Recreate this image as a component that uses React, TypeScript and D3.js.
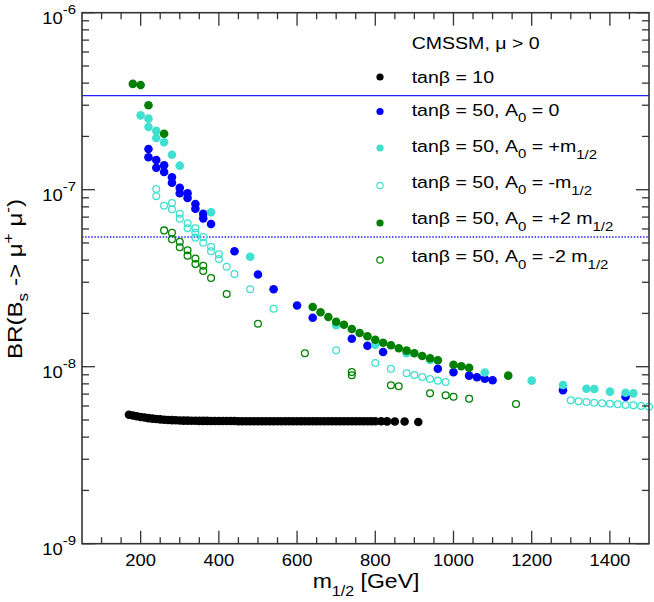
import React from "react";
import * as d3 from "d3";

const W = 654;
const H = 602;
const FONT = "'Liberation Sans', Arial, Helvetica, sans-serif";
const SX = 1.15;

// x ticks
const xMajorTicks = [200, 400, 600, 800, 1000, 1200, 1400];
const xMinorTicks = [100, 150, 250, 300, 350, 450, 500, 550, 650, 700, 750, 850, 900, 950, 1050, 1100, 1150, 1250, 1300, 1350, 1450];
const yDecades = [-9, -8, -7, -6];

// experimental limits
const limitSolid = 3.4e-7;
const limitDotted = 5.4e-8;

// tanβ = 10 (black)
const tb10X = [170, 180, 190, 200, 210, 220, 230, 240, 250, 260, 270, 280, 290, 300, 310, 320, 330, 340, 350, 360, 370, 380, 390, 400, 410, 420, 430, 440, 450, 460, 470, 480, 490, 500, 510, 520, 530, 540, 550, 560, 570, 580, 590, 600, 610, 620, 630, 640, 650, 660, 670, 680, 690, 700, 710, 720, 730, 740, 750, 760, 770, 780, 790, 800, 815, 830, 850, 875, 910];
const tb10Y = [5.35, 5.3, 5.25, 5.2, 5.16, 5.12, 5.09, 5.06, 5.04, 5.02, 5.0, 4.99, 4.98, 4.97, 4.96, 4.96, 4.95, 4.95, 4.94, 4.94, 4.94, 4.93, 4.93, 4.93, 4.93, 4.93, 4.93, 4.93, 4.92, 4.92, 4.92, 4.92, 4.92, 4.92, 4.92, 4.92, 4.92, 4.92, 4.92, 4.92, 4.92, 4.92, 4.92, 4.92, 4.92, 4.92, 4.92, 4.92, 4.92, 4.92, 4.92, 4.92, 4.92, 4.92, 4.92, 4.92, 4.92, 4.92, 4.92, 4.92, 4.92, 4.92, 4.92, 4.92, 4.92, 4.91, 4.9, 4.9, 4.87].map((v) => v * 1e-9);

// tanβ = 50, A0 = 0 (blue)
const a0X = [220, 220, 240, 240, 260, 260, 280, 280, 300, 300, 320, 320, 340, 340, 360, 360, 380, 440, 500, 540, 600, 640, 740, 780, 820, 960, 1000, 1040, 1060, 1080, 1100, 1280, 1440];
const a0Y = [16.98, 15.24, 14.71, 13.31, 13.73, 12.59, 11.75, 10.95, 10.26, 9.54, 9.54, 8.98, 8.3, 7.81, 7.32, 6.89, 6.4, 4.49, 3.32, 2.737, 2.218, 1.891, 1.439, 1.314, 1.211, 0.974, 0.93, 0.89, 0.871, 0.855, 0.838, 0.736, 0.677].map((v) => v * 1e-8);

// tanβ = 50, A0 = +m1/2 (turquoise filled)
const apX = [200, 220, 220, 240, 240, 260, 280, 300, 380, 480, 700, 800, 880, 940, 1080, 1200, 1280, 1340, 1360, 1400, 1440, 1460];
const apY = [26.3, 25.2, 22.6, 21.5, 19.6, 18.53, 15.76, 13.67, 7.45, 4.18, 1.714, 1.331, 1.191, 1.091, 0.927, 0.834, 0.788, 0.751, 0.748, 0.723, 0.713, 0.707].map((v) => v * 1e-8);

// tanβ = 50, A0 = -m1/2 (turquoise open)
const amX = [240, 240, 260, 280, 280, 300, 300, 320, 320, 340, 340, 340, 360, 360, 380, 380, 400, 400, 420, 440, 480, 540, 700, 800, 840, 880, 900, 920, 940, 960, 980, 1300, 1320, 1340, 1360, 1380, 1400, 1420, 1440, 1460, 1480, 1500];
const amY = [10.09, 9.18, 8.12, 8.41, 7.75, 7.32, 6.86, 6.46, 6.05, 6.05, 5.71, 5.36, 5.4, 5.02, 4.76, 4.49, 4.32, 4.06, 3.67, 3.34, 2.737, 2.127, 1.238, 1.049, 0.974, 0.918, 0.898, 0.875, 0.852, 0.834, 0.82, 0.646, 0.637, 0.632, 0.626, 0.621, 0.618, 0.613, 0.608, 0.605, 0.6, 0.594].map((v) => v * 1e-8);

// tanβ = 50, A0 = +2 m1/2 (green filled)
const a2pX = [180, 200, 220, 260, 640, 660, 680, 700, 720, 740, 760, 780, 800, 820, 840, 860, 880, 900, 920, 940, 960, 1000, 1020, 1040, 1140];
const a2pY = [39.6, 39.0, 30.0, 20.7, 2.175, 2.03, 1.909, 1.796, 1.727, 1.633, 1.55, 1.485, 1.42, 1.366, 1.321, 1.271, 1.232, 1.191, 1.15, 1.116, 1.087, 1.026, 1.005, 0.987, 0.89].map((v) => v * 1e-8);

// tanβ = 50, A0 = -2 m1/2 (green open)
const a2mX = [260, 280, 280, 300, 300, 320, 320, 340, 340, 360, 360, 380, 420, 500, 620, 740, 740, 840, 860, 940, 980, 1000, 1040, 1160];
const a2mY = [5.89, 5.71, 5.25, 5.08, 4.73, 4.55, 4.24, 4.08, 3.8, 3.72, 3.47, 3.17, 2.575, 1.749, 1.191, 0.933, 0.895, 0.786, 0.775, 0.707, 0.689, 0.677, 0.659, 0.615].map((v) => v * 1e-8);

const BLACK = "#000000";
const BLUE = "#0000ff";
const TURQ = "#40e0d0";
const GREEN = "#008000";

type Series = { xs: number[]; ys: number[]; color: string; open: boolean };
const series: Series[] = [
  { xs: tb10X, ys: tb10Y, color: BLACK, open: false },
  { xs: a0X, ys: a0Y, color: BLUE, open: false },
  { xs: apX, ys: apY, color: TURQ, open: false },
  { xs: amX, ys: amY, color: TURQ, open: true },
  { xs: a2pX, ys: a2pY, color: GREEN, open: false },
  { xs: a2mX, ys: a2mY, color: GREEN, open: true },
];

const MU = "\u03bc";
const legendTitle = "CMSSM, \u03bc > 0";
const legendMain = ["tan\u03b2 = 10", "tan\u03b2 = 50, A", "tan\u03b2 = 50, A", "tan\u03b2 = 50, A", "tan\u03b2 = 50, A", "tan\u03b2 = 50, A"];
const legendRest = ["", " = 0", " = +m", " = -m", " = +2 m", " = -2 m"];
const legendHalf = [false, false, true, true, true, true];

const left = 82, right = 649, top = 12.7, bottom = 543.7;

function ST(props: { x: number; y: number; rot?: number; anchor?: string; size: number; children: React.ReactNode }) {
  const { x, y, rot = 0, anchor = "start", size, children } = props;
  return (
    <g transform={`translate(${x},${y}) rotate(${rot}) scale(${SX},1)`}>
      <text fontFamily={FONT} fontSize={size} fontWeight="normal" textAnchor={anchor as any} fill="#000">
        {children}
      </text>
    </g>
  );
}

export default function App() {
  const x = d3.scaleLinear().domain([50, 1500]).range([left, right]);
  const y = d3.scaleLog().domain([1e-9, 1e-6]).range([bottom, top]);

  const yMinor: number[] = [];
  for (let e = -9; e < -6; e++) for (let k = 2; k <= 9; k++) yMinor.push(k * Math.pow(10, e));

  const legRowY = [82.5, 115.7, 151.7, 187.7, 224, 262.3];
  const legMarkY = [77, 111.5, 148, 185.5, 223, 260];

  const axisColor = "#333";
  return (
    <svg width={W} height={H} style={{ position: "absolute", left: 0, top: 0, background: "#fff" }}>
      <rect x={0} y={0} width={W} height={H} fill="#fff" />
      {/* limit lines */}
      <line x1={left} x2={right} y1={y(limitSolid)} y2={y(limitSolid)} stroke="#2020ff" strokeWidth={1.3} />
      <line x1={left} x2={right} y1={y(limitDotted)} y2={y(limitDotted)} stroke="#2020ff" strokeWidth={1.5} strokeDasharray="1.5 1.6" />

      {/* data */}
      {series.map((s, si) =>
        s.xs.map((xv, i) =>
          s.open ? (
            <circle key={`${si}-${i}`} cx={x(xv)} cy={y(s.ys[i])} r={3.4} fill="none" stroke={s.color} strokeWidth={1.3} />
          ) : (
            <circle key={`${si}-${i}`} cx={x(xv)} cy={y(s.ys[i])} r={4.3} fill={s.color} />
          )
        )
      )}

      {/* frame */}
      <rect x={left} y={top} width={right - left} height={bottom - top} fill="none" stroke={axisColor} strokeWidth={1.6} />
      {/* x ticks */}
      {xMajorTicks.map((t) => (
        <g key={`xM${t}`}>
          <line x1={x(t)} x2={x(t)} y1={bottom} y2={bottom - 13} stroke={axisColor} strokeWidth={1.3} />
          <line x1={x(t)} x2={x(t)} y1={top} y2={top + 13} stroke={axisColor} strokeWidth={1.3} />
        </g>
      ))}
      {xMinorTicks.map((t) => (
        <g key={`xm${t}`}>
          <line x1={x(t)} x2={x(t)} y1={bottom} y2={bottom - 6.5} stroke={axisColor} strokeWidth={1.3} />
          <line x1={x(t)} x2={x(t)} y1={top} y2={top + 6.5} stroke={axisColor} strokeWidth={1.3} />
        </g>
      ))}
      {/* y ticks */}
      {yDecades.map((e) => (
        <g key={`yM${e}`}>
          <line x1={left} x2={left + 13} y1={y(Math.pow(10, e))} y2={y(Math.pow(10, e))} stroke={axisColor} strokeWidth={1.3} />
          <line x1={right} x2={right - 13} y1={y(Math.pow(10, e))} y2={y(Math.pow(10, e))} stroke={axisColor} strokeWidth={1.3} />
        </g>
      ))}
      {yMinor.map((v, i) => (
        <g key={`ym${i}`}>
          <line x1={left} x2={left + 7} y1={y(v)} y2={y(v)} stroke={axisColor} strokeWidth={1.3} />
          <line x1={right} x2={right - 7} y1={y(v)} y2={y(v)} stroke={axisColor} strokeWidth={1.3} />
        </g>
      ))}

      {/* x tick labels */}
      {xMajorTicks.map((t) => (
        <ST key={`xl${t}`} x={x(t)} y={566} anchor="middle" size={16}>
          {String(t)}
        </ST>
      ))}
      {/* y tick labels */}
      {yDecades.map((e) => (
        <ST key={`yl${e}`} x={76} y={y(Math.pow(10, e)) + 11} anchor="end" size={16}>
          <tspan>10</tspan>
          <tspan fontSize={13} dy={-10}>{`-${-e}`}</tspan>
        </ST>
      ))}

      {/* axis titles */}
      <ST x={366} y={588} anchor="middle" size={20}>
        <tspan>m</tspan>
        <tspan fontSize={14} dy={8}>1/2</tspan>
        <tspan dy={-8}>{" [GeV]"}</tspan>
      </ST>
      <ST x={21.7} y={279} rot={-90} anchor="middle" size={21}>
        <tspan>BR(B</tspan>
        <tspan fontSize={15} dy={6}>s</tspan>
        <tspan dy={-6}>{" -> " + MU}</tspan>
        <tspan fontSize={15} dy={-9}>+</tspan>
        <tspan dy={9}>{" " + MU}</tspan>
        <tspan fontSize={15} dy={-9}>-</tspan>
        <tspan dy={9}>)</tspan>
      </ST>

      {/* legend */}
      <ST x={411.7} y={49} size={17}>
        {legendTitle}
      </ST>
      {series.map((s, i) => (
        <g key={`leg${i}`}>
          {s.open ? (
            <circle cx={380} cy={legMarkY[i]} r={3.2} fill="none" stroke={s.color} strokeWidth={1.2} />
          ) : (
            <circle cx={380} cy={legMarkY[i]} r={3.6} fill={s.color} />
          )}
          <ST x={411.7} y={legRowY[i]} size={17}>
            <tspan>{legendMain[i]}</tspan>
            {i > 0 && <tspan fontSize={13} dy={6.5}>0</tspan>}
            {i > 0 && <tspan dy={-6.5}>{legendRest[i]}</tspan>}
            {legendHalf[i] && <tspan fontSize={13} dy={7}>1/2</tspan>}
          </ST>
        </g>
      ))}
    </svg>
  );
}
